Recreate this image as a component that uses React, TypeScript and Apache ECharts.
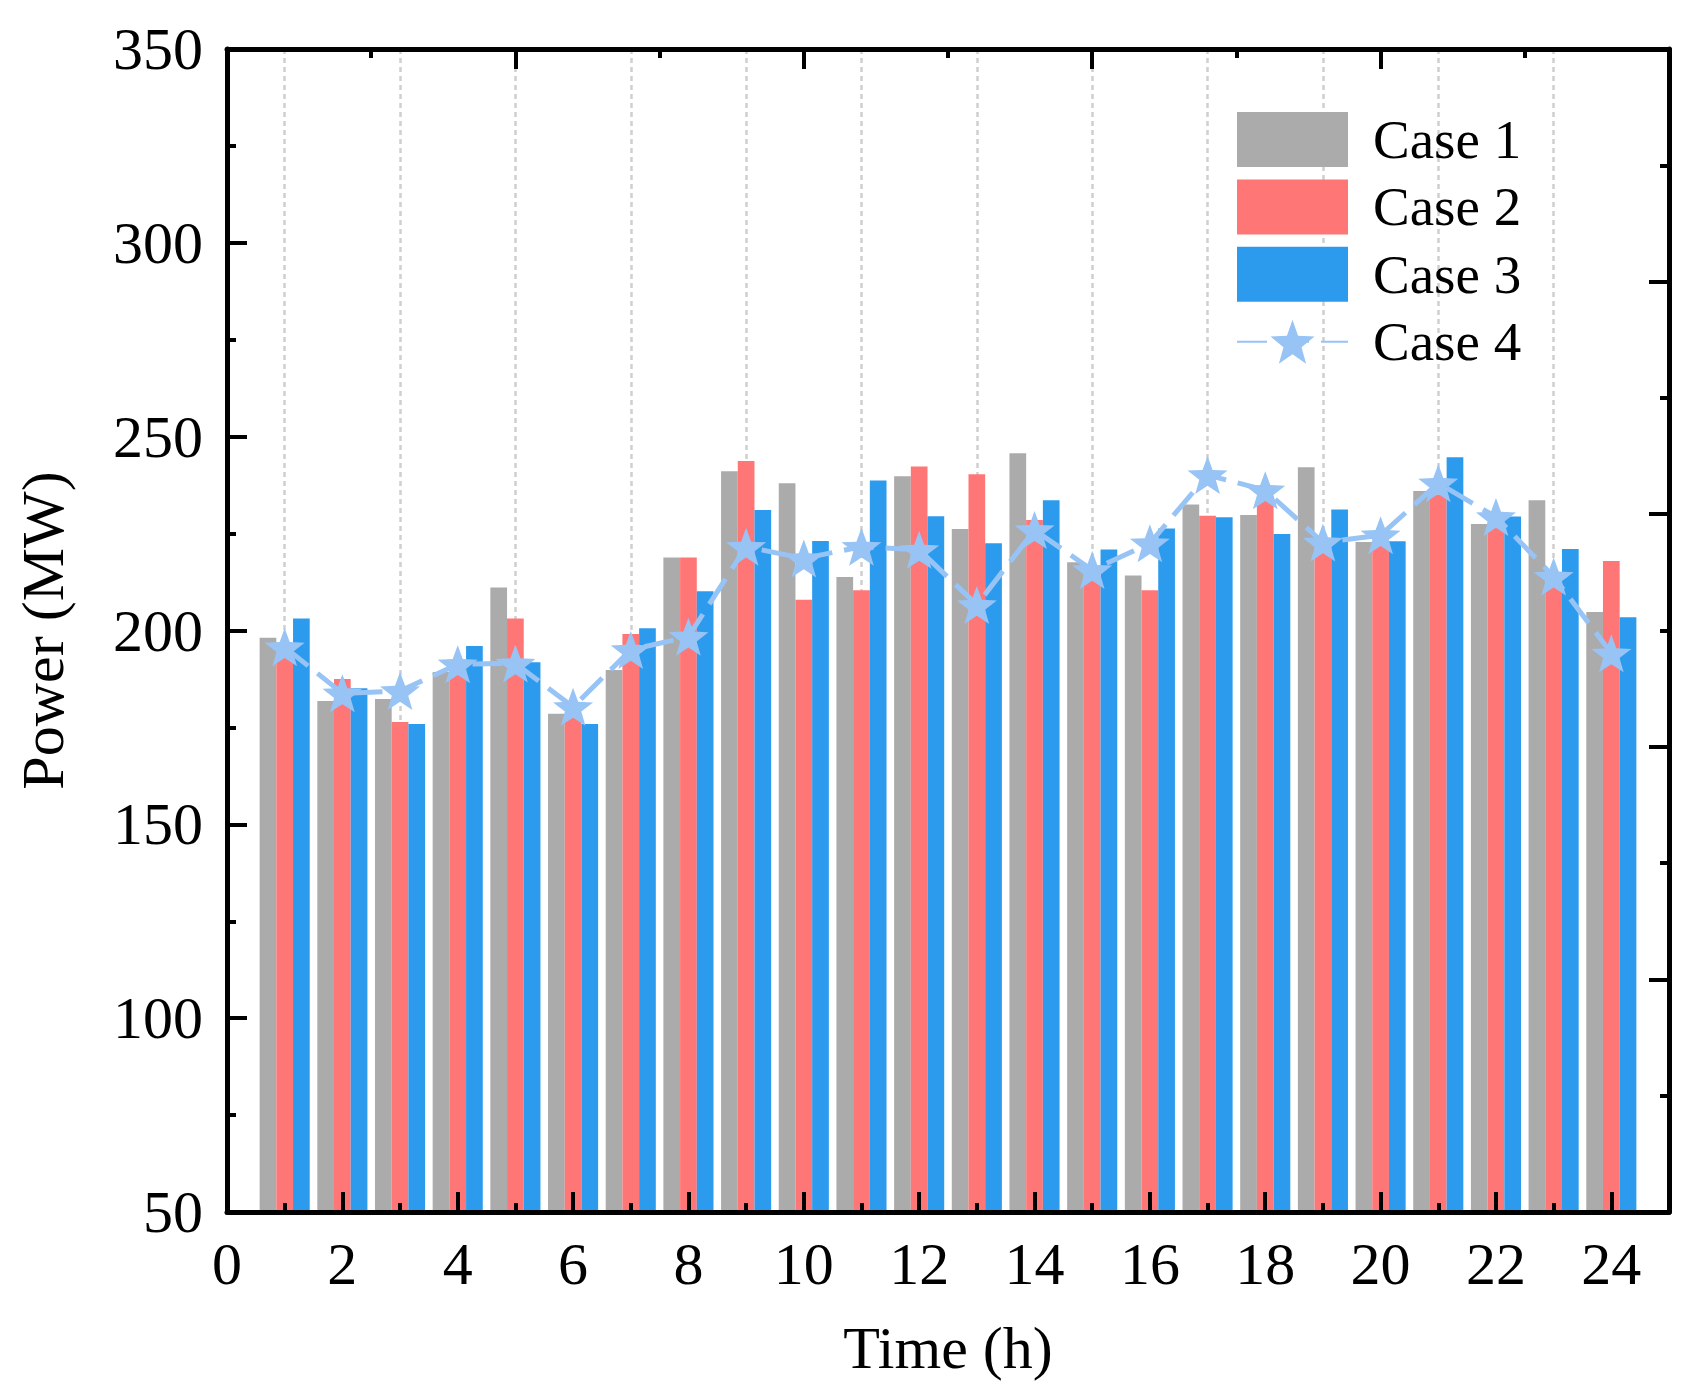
import React, { useEffect, useRef } from "react";
import * as echarts from "echarts";

const hours = [1, 2, 3, 4, 5, 6, 7, 8, 9, 10, 11, 12, 13, 14, 15, 16, 17, 18, 19, 20, 21, 22, 23, 24];
const case1Values = [198.1, 181.8, 182.3, 189.3, 211.1, 178.5, 189.8, 218.8, 241.1, 238.0, 213.8, 239.8, 226.2, 245.7, 217.6, 214.2, 232.5, 229.8, 242.1, 222.8, 236.0, 227.5, 233.6, 204.8];
const case2Values = [195.0, 187.5, 176.4, 190.0, 203.1, 177.4, 199.1, 218.8, 243.7, 207.9, 210.4, 242.3, 240.3, 228.5, 213.0, 210.4, 229.6, 233.6, 222.0, 222.0, 235.0, 228.0, 211.3, 217.9];
const case3Values = [203.1, 185.1, 175.9, 196.0, 191.8, 175.9, 200.6, 210.1, 231.1, 223.1, 238.7, 229.5, 222.5, 233.6, 220.9, 226.3, 229.2, 224.9, 231.2, 223.0, 244.7, 229.4, 221.0, 203.4];
const case4Values = [195.7, 183.8, 184.4, 191.3, 191.5, 180.3, 195.0, 198.4, 221.6, 218.6, 221.6, 220.8, 206.6, 225.9, 215.6, 222.5, 240.1, 236.2, 222.7, 224.6, 238.0, 229.3, 213.9, 194.1];
const seriesNames = ["Case 1", "Case 2", "Case 3", "Case 4"];
const gridCategories = ["0", "1", "2", "3", "4", "5", "6", "7", "8", "9", "10", "11", "12", "13", "14", "15", "16", "17", "18", "19", "20", "21", "22", "23", "24", "25"];

const FONT = "Liberation Serif";
const COLORS = ["#ABABAB", "#FF7676", "#2C9BED", "#97C3F5"];
const STAR_PATH =
  "path://M100,0 L124,66 L195.1,69.1 L139,113 L158.8,180.9 L100,142 L41.2,180.9 L61,113 L4.9,69.1 L76,66 Z";

export default function App() {
  const ref = useRef<HTMLDivElement>(null);

  useEffect(() => {
    document.body.style.margin = "0";
    if (!ref.current) return;
    const chart = echarts.init(ref.current, undefined, { renderer: "svg" });

    const pair = (vals: number[]) => hours.map((h, i) => [h, vals[i]]);
    const axisLine = () => ({ show: true, onZero: false, lineStyle: { color: "#000", width: 5 } });
    const majorTick = () => ({ show: true, inside: true, length: 20, lineStyle: { color: "#000", width: 4 } });
    const minorTick = () => ({ show: true, splitNumber: 2, length: 9, lineStyle: { color: "#000", width: 4 } });

    const option: any = {
      animation: false,
      backgroundColor: "#fff",
      grid: { left: 227, right: 29, top: 49, bottom: 181, containLabel: false, outerBoundsMode: "none" },
      legend: {
        orient: "vertical",
        left: 1236,
        top: 112,
        padding: 0,
        itemWidth: 111,
        itemHeight: 55,
        itemGap: 12.4,
        selectedMode: false,
        data: [
          { name: seriesNames[0], icon: "rect" },
          { name: seriesNames[1], icon: "rect" },
          { name: seriesNames[2], icon: "rect" },
          { name: seriesNames[3] },
        ],
        textStyle: { fontFamily: FONT, fontSize: 55, color: "#000", padding: [0, 0, 0, 20] },
      },
      xAxis: [
        {
          type: "value",
          position: "bottom",
          min: 0,
          max: 25,
          interval: 2,
          z: 10,
          axisLine: axisLine(),
          axisTick: majorTick(),
          minorTick: { show: false },
          splitLine: { show: false },
          axisLabel: { fontFamily: FONT, fontSize: 60, color: "#000", margin: 22, showMaxLabel: false },
          name: "Time (h)",
          nameLocation: "middle",
          nameGap: 106,
          nameTextStyle: { fontFamily: FONT, fontSize: 60, color: "#000" },
        },
        {
          type: "category",
          position: "bottom",
          data: gridCategories,
          boundaryGap: false,
          z: 10,
          axisLine: { show: false, onZero: false },
          axisLabel: { show: false },
          axisTick: {
            show: true,
            inside: true,
            length: 9,
            interval: (i: number) => i % 2 === 1 && i < 25,
            lineStyle: { color: "#000", width: 4 },
          },
          splitLine: { show: false },
        },
        {
          type: "category",
          position: "bottom",
          data: gridCategories,
          boundaryGap: false,
          z: 0,
          axisLine: { show: false, onZero: false },
          axisLabel: { show: false },
          axisTick: { show: false },
          splitLine: {
            show: true,
            interval: (i: number) => i % 2 === 1 && i < 25,
            lineStyle: { color: "#CFCFCF", width: 2.5, type: [5, 4] },
          },
        },
        {
          type: "value",
          position: "top",
          min: 0,
          max: 25,
          interval: 5,
          z: 10,
          axisLine: axisLine(),
          axisTick: majorTick(),
          minorTick: minorTick(),
          splitLine: { show: false },
          axisLabel: { show: false },
        },
      ],
      yAxis: [
        {
          type: "value",
          position: "left",
          min: 50,
          max: 350,
          interval: 50,
          z: 10,
          axisLine: axisLine(),
          axisTick: majorTick(),
          minorTick: minorTick(),
          splitLine: { show: false },
          axisLabel: { fontFamily: FONT, fontSize: 60, color: "#000", margin: 24 },
          name: "Power (MW)",
          nameLocation: "middle",
          nameGap: 154,
          nameTextStyle: { fontFamily: FONT, fontSize: 60, color: "#000" },
        },
        {
          type: "value",
          position: "right",
          min: 0,
          max: 10,
          interval: 2,
          z: 10,
          axisLine: axisLine(),
          axisTick: majorTick(),
          minorTick: minorTick(),
          splitLine: { show: false },
          axisLabel: { show: false },
        },
      ],
      series: [
        {
          name: seriesNames[0],
          type: "bar",
          xAxisIndex: 0,
          yAxisIndex: 0,
          data: pair(case1Values),
          barWidth: 16.7,
          barGap: "0%",
          itemStyle: { color: COLORS[0] },
          z: 2,
        },
        {
          name: seriesNames[1],
          type: "bar",
          xAxisIndex: 0,
          yAxisIndex: 0,
          data: pair(case2Values),
          barWidth: 16.7,
          barGap: "0%",
          itemStyle: { color: COLORS[1] },
          z: 2,
        },
        {
          name: seriesNames[2],
          type: "bar",
          xAxisIndex: 0,
          yAxisIndex: 0,
          data: pair(case3Values),
          barWidth: 16.7,
          barGap: "0%",
          itemStyle: { color: COLORS[2] },
          z: 2,
        },
        {
          name: seriesNames[3],
          type: "line",
          xAxisIndex: 0,
          yAxisIndex: 0,
          data: pair(case4Values),
          symbol: STAR_PATH,
          symbolSize: [40, 38],
          showAllSymbol: true,
          lineStyle: { color: COLORS[3], width: 5, type: [30, 12] },
          itemStyle: { color: COLORS[3] },
          z: 5,
        },
      ],
    };

    chart.setOption(option);
    return () => chart.dispose();
  }, []);

  return (
    <div style={{ position: "fixed", left: 0, top: 0, width: 1698, height: 1393, background: "#fff" }}>
      <div ref={ref} style={{ width: 1698, height: 1393 }} />
    </div>
  );
}
